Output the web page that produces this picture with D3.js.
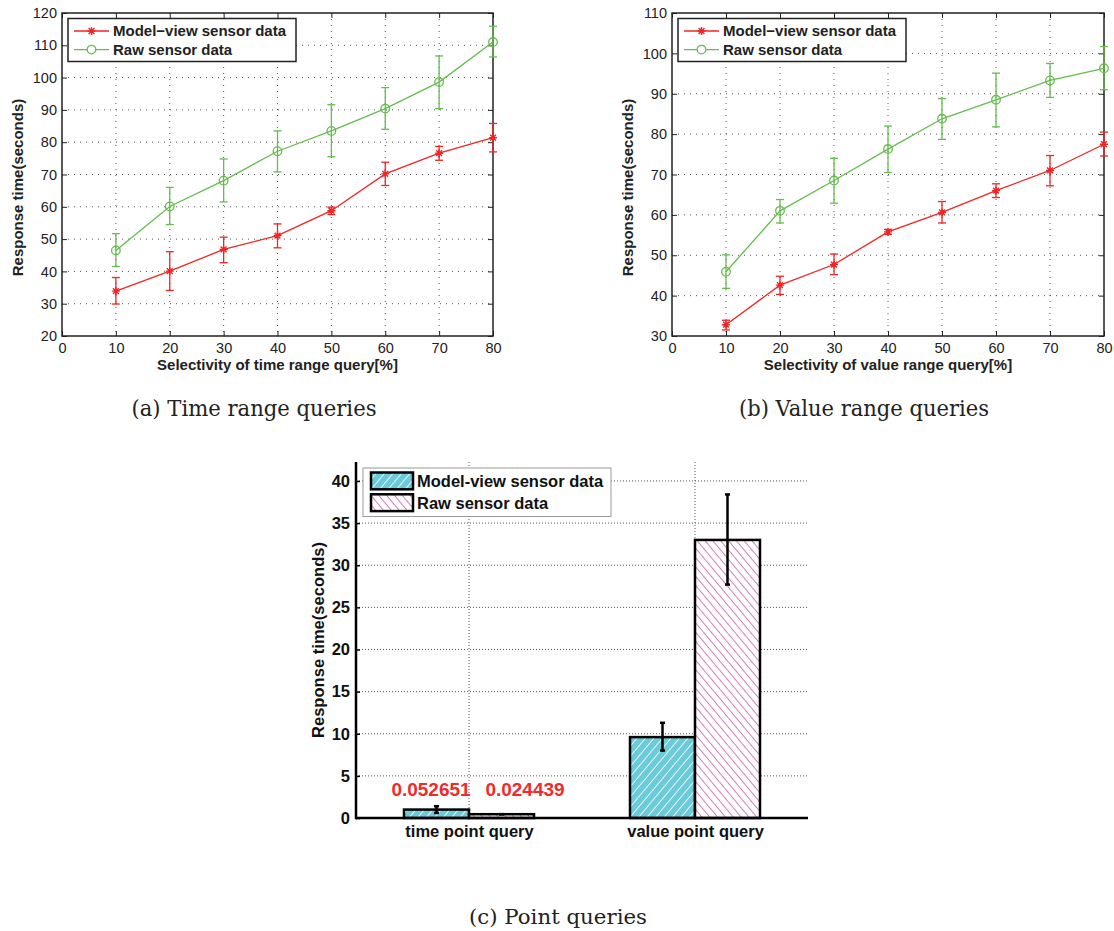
<!DOCTYPE html>
<html>
<head>
<meta charset="utf-8">
<script src="https://cdn.jsdelivr.net/npm/d3@7/dist/d3.min.js"></script>
<style>
  body { margin: 0; background: #fff; }
</style>
</head>
<body>
<svg id="fig" width="1114" height="931"></svg>
<script>
// ---- data ----
var selectivity = [10, 20, 30, 40, 50, 60, 70, 80];
var seriesNames = ["Model\u2212view sensor data", "Raw sensor data"];

// (a) time range queries
var timeModel    = [33.9, 40.1, 46.8, 51.1, 58.8, 70.2, 76.6, 81.4];
var timeModelErr = [[29.9, 38.1], [34.1, 46.1], [42.7, 50.6], [47.3, 54.7], [57.6, 59.9], [66.6, 73.8], [74.4, 78.7], [77.0, 85.8]];
var timeRaw      = [46.5, 60.1, 68.1, 77.2, 83.5, 90.4, 98.6, 111.0];
var timeRawErr   = [[41.5, 51.7], [54.5, 66.0], [61.5, 74.8], [70.8, 83.5], [75.5, 91.6], [84.0, 96.9], [90.4, 106.7], [106.4, 115.9]];

// (b) value range queries
var valueModel    = [32.8, 42.6, 47.7, 55.8, 60.6, 66.0, 71.0, 77.5];
var valueModelErr = [[31.5, 33.9], [40.3, 44.8], [45.2, 50.3], [55.2, 56.4], [58.0, 63.3], [64.3, 67.7], [67.2, 74.7], [74.6, 80.5]];
var valueRaw      = [45.9, 61.0, 68.5, 76.3, 83.8, 88.5, 93.3, 96.3];
var valueRawErr   = [[41.8, 50.1], [58.0, 63.8], [62.9, 74.0], [70.5, 82.0], [78.7, 88.8], [81.8, 95.1], [89.1, 97.5], [91.0, 101.7]];

// (c) point queries
var pointCategories = ["time point query", "value point query"];
var pointSeries     = ["Model-view sensor data", "Raw sensor data"];
var pointModel      = [1.0, 9.6];
var pointModelErr   = [[0.6, 1.4], [8.0, 11.3]];
var pointRaw        = [0.45, 33.0];
var pointRawErr     = [[0.45, 0.45], [27.7, 38.4]];
var pointLabels     = ["0.052651", "0.024439"];
var pointTicks      = [0, 5, 10, 15, 20, 25, 30, 35, 40];

var captions = ["(a) Time range queries", "(b) Value range queries", "(c) Point queries"];

var SANS = "Liberation Sans, Arial, sans-serif";
var RED = "#f22424", GREEN = "#64bd4c";
var svg = d3.select("#fig");

var defs = svg.append("defs");
var pat1 = defs.append("pattern").attr("id", "hatchModel")
    .attr("patternUnits", "userSpaceOnUse").attr("width", 6.5).attr("height", 6.5)
    .attr("patternTransform", "rotate(40)");
pat1.append("rect").attr("width", 6.5).attr("height", 6.5).attr("fill", "#6ccbd9");
pat1.append("line").attr("x1", 0).attr("y1", 0).attr("x2", 0).attr("y2", 6.5)
    .attr("stroke", "#fff").attr("stroke-width", 1.6);
var pat2 = defs.append("pattern").attr("id", "hatchRaw")
    .attr("patternUnits", "userSpaceOnUse").attr("width", 6).attr("height", 6)
    .attr("patternTransform", "rotate(-40)");
pat2.append("rect").attr("width", 6).attr("height", 6).attr("fill", "#fff");
pat2.append("line").attr("x1", 0).attr("y1", 0).attr("x2", 0).attr("y2", 6)
    .attr("stroke", "#b83a98").attr("stroke-width", 1.3);

var starPath = "M-4,0H4M0,-4V4M-2.9,-2.9L2.9,2.9M-2.9,2.9L2.9,-2.9";

function drawLinePanel(cfg) {
    var x = d3.scaleLinear().domain([0, 80]).range([cfg.left, cfg.right]);
    var y = d3.scaleLinear().domain(cfg.yDomain).range([cfg.bottom, cfg.top]);
    var g = svg.append("g");
    var xt = d3.range(0, 81, 10), yt = d3.range(cfg.yDomain[0], cfg.yDomain[1] + 1, 10);

    // dotted grid
    g.selectAll(".vg").data(xt.slice(1, -1)).enter().append("line")
        .attr("x1", x).attr("x2", x).attr("y1", cfg.top).attr("y2", cfg.bottom)
        .attr("stroke", "#555").attr("stroke-width", 1).attr("stroke-dasharray", "1,5");
    g.selectAll(".hg").data(yt.slice(1, -1)).enter().append("line")
        .attr("y1", y).attr("y2", y).attr("x1", cfg.left).attr("x2", cfg.right)
        .attr("stroke", "#555").attr("stroke-width", 1).attr("stroke-dasharray", "1,5");

    // axes with inward ticks on all four sides
    var ax = [
        g.append("g").attr("transform", "translate(0," + cfg.bottom + ")")
            .call(d3.axisBottom(x).tickValues(xt).tickSize(-5).tickPadding(7)),
        g.append("g").attr("transform", "translate(0," + cfg.top + ")")
            .call(d3.axisTop(x).tickValues(xt).tickSize(-5).tickFormat("")),
        g.append("g").attr("transform", "translate(" + cfg.left + ",0)")
            .call(d3.axisLeft(y).tickValues(yt).tickSize(-5).tickPadding(5)),
        g.append("g").attr("transform", "translate(" + cfg.right + ",0)")
            .call(d3.axisRight(y).tickValues(yt).tickSize(-5).tickFormat(""))
    ];
    ax.forEach(function(a) {
        a.select(".domain").remove();
        a.selectAll("line").attr("stroke", "#222");
        a.selectAll("text").attr("font-size", "14.5px").attr("fill", "#222")
            .attr("font-family", SANS);
    });
    g.append("rect").attr("x", cfg.left).attr("y", cfg.top)
        .attr("width", cfg.right - cfg.left).attr("height", cfg.bottom - cfg.top)
        .attr("fill", "none").attr("stroke", "#222").attr("stroke-width", 1.5);

    var series = [
        { vals: cfg.model, err: cfg.modelErr, color: RED, mark: "star" },
        { vals: cfg.raw, err: cfg.rawErr, color: GREEN, mark: "circle" }
    ];
    series.forEach(function(s) {
        var line = d3.line().x(function(d, i) { return x(selectivity[i]); }).y(function(d) { return y(d); });
        g.append("path").datum(s.vals).attr("d", line)
            .attr("fill", "none").attr("stroke", s.color).attr("stroke-width", 1.3);
        var eb = g.selectAll(null).data(s.err).enter().append("g")
            .attr("stroke", s.color).attr("stroke-width", 1.3);
        eb.append("line").attr("x1", function(d, i) { return x(selectivity[i]); })
            .attr("x2", function(d, i) { return x(selectivity[i]); })
            .attr("y1", function(d) { return y(d[0]); }).attr("y2", function(d) { return y(d[1]); });
        [0, 1].forEach(function(k) {
            eb.append("line").attr("x1", function(d, i) { return x(selectivity[i]) - 4; })
                .attr("x2", function(d, i) { return x(selectivity[i]) + 4; })
                .attr("y1", function(d) { return y(d[k]); }).attr("y2", function(d) { return y(d[k]); });
        });
        var mk = g.selectAll(null).data(s.vals).enter();
        if (s.mark === "star") {
            mk.append("path").attr("d", starPath)
                .attr("transform", function(d, i) { return "translate(" + x(selectivity[i]) + "," + y(d) + ")"; })
                .attr("stroke", s.color).attr("stroke-width", 1.4).attr("fill", "none");
        } else {
            mk.append("circle").attr("cx", function(d, i) { return x(selectivity[i]); })
                .attr("cy", function(d) { return y(d); }).attr("r", 4.3)
                .attr("stroke", s.color).attr("stroke-width", 1.3).attr("fill", "none");
        }
    });

    // legend
    var lg = g.append("g").attr("transform", "translate(" + (cfg.left + 6) + "," + (cfg.top + 5.5) + ")");
    lg.append("rect").attr("width", 228).attr("height", 43).attr("fill", "#fff")
        .attr("stroke", "#222").attr("stroke-width", 1.5);
    seriesNames.forEach(function(name, i) {
        var ry = 12.5 + i * 18.6, col = i === 0 ? RED : GREEN;
        lg.append("line").attr("x1", 6).attr("x2", 41).attr("y1", ry).attr("y2", ry)
            .attr("stroke", col).attr("stroke-width", 1.3);
        if (i === 0) {
            lg.append("path").attr("d", starPath).attr("transform", "translate(23.5," + ry + ")")
                .attr("stroke", col).attr("stroke-width", 1.4).attr("fill", "none");
        } else {
            lg.append("circle").attr("cx", 23.5).attr("cy", ry).attr("r", 4.3)
                .attr("stroke", col).attr("stroke-width", 1.3).attr("fill", "#fff");
        }
        lg.append("text").attr("x", 45).attr("y", ry + 5.3).text(name)
            .attr("font-family", SANS).attr("font-size", "15px").attr("font-weight", "bold").attr("fill", "#222");
    });

    // axis titles
    g.append("text").attr("x", (cfg.left + cfg.right) / 2).attr("y", cfg.bottom + 34)
        .attr("text-anchor", "middle").attr("font-family", SANS).attr("font-size", "15px").attr("font-weight", "bold")
        .attr("fill", "#222").text(cfg.xLabel);
    g.append("text").attr("transform", "translate(" + (cfg.left - 39) + "," + ((cfg.top + cfg.bottom) / 2 + 13) + ") rotate(-90)")
        .attr("text-anchor", "middle").attr("font-family", SANS).attr("font-size", "15px").attr("font-weight", "bold")
        .attr("fill", "#222").text("Response time(seconds)");
}

drawLinePanel({ left: 62, right: 493, top: 13, bottom: 336, yDomain: [20, 120],
    model: timeModel, modelErr: timeModelErr, raw: timeRaw, rawErr: timeRawErr,
    xLabel: "Selectivity of time range query[%]" });
drawLinePanel({ left: 672, right: 1104, top: 13, bottom: 336, yDomain: [30, 110],
    model: valueModel, modelErr: valueModelErr, raw: valueRaw, rawErr: valueRawErr,
    xLabel: "Selectivity of value range query[%]" });

// ---- (c) point queries ----
(function() {
    var left = 356, right = 808, top = 462, bottom = 818;
    var x = d3.scaleLinear().domain([0.5, 2.5]).range([left, right]);
    var y = d3.scaleLinear().domain([0, 42.25]).range([bottom, top]);
    var bw = 65;
    var g = svg.append("g");

    g.selectAll(".hg").data(pointTicks.slice(1)).enter().append("line")
        .attr("x1", left).attr("x2", right).attr("y1", y).attr("y2", y)
        .attr("stroke", "#555").attr("stroke-dasharray", "1,2").attr("stroke-width", 1);
    g.selectAll(".vg").data(pointCategories).enter().append("line")
        .attr("x1", function(d, i) { return x(i + 1); }).attr("x2", function(d, i) { return x(i + 1); })
        .attr("y1", top).attr("y2", bottom)
        .attr("stroke", "#555").attr("stroke-dasharray", "1,2").attr("stroke-width", 1);

    var groups = [
        { vals: pointModel, err: pointModelErr, fill: "url(#hatchModel)", off: -bw },
        { vals: pointRaw, err: pointRawErr, fill: "url(#hatchRaw)", off: 0 }
    ];
    groups.forEach(function(s) {
        g.selectAll(null).data(s.vals).enter().append("rect")
            .attr("x", function(d, i) { return x(i + 1) + s.off; })
            .attr("y", function(d) { return y(d); })
            .attr("width", bw).attr("height", function(d) { return y(0) - y(d); })
            .attr("fill", s.fill).attr("stroke", "#000").attr("stroke-width", 2.5);
    });
    groups.forEach(function(s) {
        var eb = g.selectAll(null).data(s.err).enter().append("g")
            .attr("stroke", "#000").attr("stroke-width", 2.5);
        var cx = function(d, i) { return x(i + 1) + s.off + bw / 2; };
        eb.append("line").attr("x1", cx).attr("x2", cx)
            .attr("y1", function(d) { return y(d[0]); }).attr("y2", function(d) { return y(d[1]); });
        [0, 1].forEach(function(k) {
            eb.append("line").attr("x1", function(d, i) { return cx(d, i) - 2.5; })
                .attr("x2", function(d, i) { return cx(d, i) + 2.5; })
                .attr("y1", function(d) { return y(d[k]); }).attr("y2", function(d) { return y(d[k]); });
        });
    });

    // red value annotations over the small bars
    g.selectAll(null).data(pointLabels).enter().append("text")
        .attr("x", function(d, i) { return x(1) - 38 + i * 94; }).attr("y", 796)
        .attr("text-anchor", "middle").attr("font-family", SANS).attr("font-size", "19px").attr("font-weight", "bold")
        .attr("fill", "#f22a2a").text(function(d) { return d; });

    var ya = g.append("g").attr("transform", "translate(" + left + ",0)")
        .call(d3.axisLeft(y).tickValues(pointTicks).tickSize(-4).tickPadding(6));
    var xa = g.append("g").attr("transform", "translate(0," + bottom + ")")
        .call(d3.axisBottom(x).tickValues([1, 2]).tickSize(0).tickPadding(7)
            .tickFormat(function(d) { return pointCategories[d - 1]; }));
    [ya, xa].forEach(function(a) {
        a.select(".domain").remove();
        a.selectAll("line").attr("stroke", "#000").attr("stroke-width", 1.5);
        a.selectAll("text").attr("font-size", "16.5px").attr("font-weight", "bold").attr("fill", "#111")
            .attr("font-family", SANS);
    });
    g.append("line").attr("x1", left).attr("x2", left).attr("y1", top).attr("y2", bottom + 1.2)
        .attr("stroke", "#000").attr("stroke-width", 2.5);
    g.append("line").attr("x1", left).attr("x2", right).attr("y1", bottom).attr("y2", bottom)
        .attr("stroke", "#000").attr("stroke-width", 2.5);

    g.append("text").attr("transform", "translate(324,640) rotate(-90)")
        .attr("text-anchor", "middle").attr("font-family", SANS).attr("font-size", "16.5px").attr("font-weight", "bold")
        .attr("fill", "#111").text("Response time(seconds)")
        .attr("textLength", 196).attr("lengthAdjust", "spacing");

    var lg = g.append("g").attr("transform", "translate(363,468)");
    lg.append("rect").attr("width", 248).attr("height", 48.5).attr("fill", "#fff")
        .attr("stroke", "#999").attr("stroke-width", 1);
    pointSeries.forEach(function(name, i) {
        lg.append("rect").attr("x", 8).attr("y", 4.5 + i * 21.8).attr("width", 42).attr("height", 16.8)
            .attr("fill", i === 0 ? "url(#hatchModel)" : "url(#hatchRaw)")
            .attr("stroke", "#000").attr("stroke-width", 2.5);
        lg.append("text").attr("x", 54).attr("y", 19 + i * 21.5).text(name)
            .attr("font-family", SANS).attr("font-size", "16.5px").attr("font-weight", "bold").attr("fill", "#111");
    });
})();

// ---- captions ----
var capPos = [[254, 416, 245], [864, 416, 250], [558, 924, 178]];
captions.forEach(function(c, i) {
    svg.append("text").attr("x", capPos[i][0]).attr("y", capPos[i][1])
        .attr("text-anchor", "middle")
        .style("font-family", i < 2 ? "'DejaVu Serif Condensed', 'DejaVu Serif', serif" : "'DejaVu Serif', serif")
        .attr("font-size", i < 2 ? "22px" : "21px").attr("fill", "#222").text(c)
        .attr("textLength", capPos[i][2]).attr("lengthAdjust", "spacingAndGlyphs");
});
</script>
</body>
</html>
